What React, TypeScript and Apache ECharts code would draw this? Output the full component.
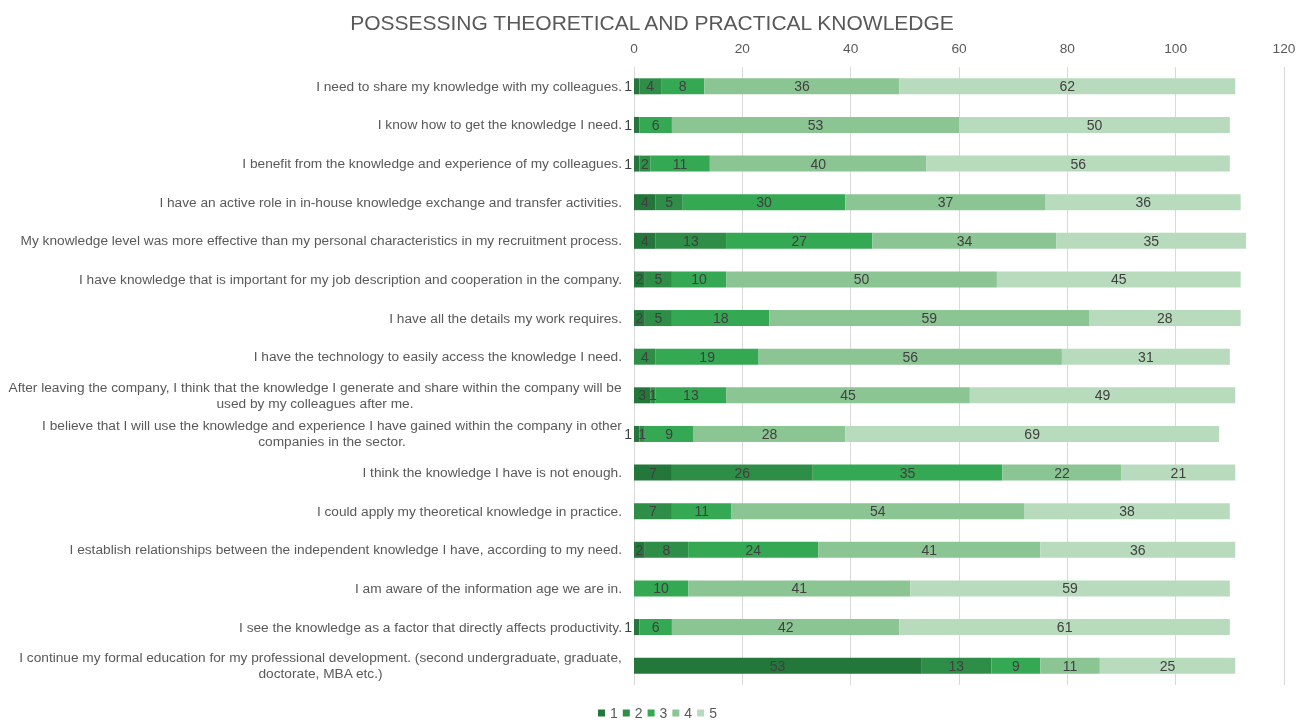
import React, { useEffect, useRef } from "react";
import * as echarts from "echarts";

const categories: string[] = [
  "I need to share my knowledge with my colleagues.",
  "I know how to get the knowledge I need.",
  "I benefit from the knowledge and experience of my colleagues.",
  "I have an active role in in-house knowledge exchange and transfer activities.",
  "My knowledge level was more effective than my personal characteristics in my recruitment process.",
  "I have knowledge that is important for my job description and cooperation in the company.",
  "I have all the details my work requires.",
  "I have the technology to easily access the knowledge I need.",
  "After leaving the company, I think that the knowledge I generate and share within the company will be\nused by my colleagues after me.",
  "I believe that I will use the knowledge and experience I have gained within the company in other\ncompanies in the sector.",
  "I think the knowledge I have is not enough.",
  "I could apply my theoretical knowledge in practice.",
  "I establish relationships between the independent knowledge I have, according to my need.",
  "I am aware of the information age we are in.",
  "I see the knowledge as a factor that directly affects productivity.",
  "I continue my formal education for my professional development. (second undergraduate, graduate,\ndoctorate, MBA etc.)",
];

const seriesNames: string[] = ["1", "2", "3", "4", "5"];
const s1: number[] = [1, 1, 1, 4, 4, 2, 2, 0, 3, 1, 7, 0, 2, 0, 1, 53];
const s2: number[] = [4, 0, 2, 5, 13, 5, 5, 4, 1, 1, 26, 7, 8, 0, 0, 13];
const s3: number[] = [8, 6, 11, 30, 27, 10, 18, 19, 13, 9, 35, 11, 24, 10, 6, 9];
const s4: number[] = [36, 53, 40, 37, 34, 50, 59, 56, 45, 28, 22, 54, 41, 41, 42, 11];
const s5: number[] = [62, 50, 56, 36, 35, 45, 28, 31, 49, 69, 21, 38, 36, 59, 61, 25];
const xTicks = { min: 0, max: 120, interval: 20 };

const colors = ["#23773a", "#2e8d47", "#34a853", "#8cc594", "#b8dbbd"];
const CAT_SIZE = 13.7;
const LABEL_FONT = `${CAT_SIZE}px "Liberation Sans"`;
const TEXT_COLOR = "#595959";

export default function App() {
  const ref = useRef<HTMLDivElement>(null);
  useEffect(() => {
    if (!ref.current) return;
    const chart = echarts.init(ref.current, undefined, { renderer: "svg" });
    const canvas = document.createElement("canvas");
    const ctx = canvas.getContext("2d")!;
    ctx.font = LABEL_FONT;
    const rich: Record<string, any> = {};
    const keyFor: Record<string, string> = {};
    categories.forEach((c, i) => {
      if (c.includes("\n")) {
        const w = Math.max(...c.split("\n").map((l) => ctx.measureText(l).width));
        const k = "w" + i;
        keyFor[c] = k;
        rich[k] = { width: Math.ceil(w), align: "center", fontSize: CAT_SIZE, color: TEXT_COLOR, lineHeight: 16 };
      }
    });
    const all = [s1, s2, s3, s4, s5];
    const series = all.map((arr, si) => ({
      name: seriesNames[si],
      type: "bar",
      stack: "total",
      barWidth: 16,
      itemStyle: { color: colors[si] },
      label: {
        show: true,
        position: "inside",
        color: "#404040",
        fontSize: 14,
        fontFamily: "Liberation Sans",
        formatter: (p: any) => (p.value > 0 ? String(p.value) : ""),
      },
      data: arr.map((v) =>
        si === 0 && v === 1
          ? { value: v, label: { position: "left", distance: 2 } }
          : v
      ),
    }));
    chart.setOption({
      animation: false,
      textStyle: { fontFamily: "Liberation Sans" },
      title: {
        text: "POSSESSING THEORETICAL AND PRACTICAL KNOWLEDGE",
        left: "center",
        top: 7,
        textStyle: { fontSize: 21, fontWeight: "normal", color: TEXT_COLOR, fontFamily: "Liberation Sans" },
      },
      legend: {
        bottom: 2,
        left: 598,
        padding: 0,
        icon: "rect",
        itemWidth: 7,
        itemHeight: 7,
        itemGap: 5,
        textStyle: { fontSize: 14, color: TEXT_COLOR },
        data: seriesNames,
      },
      grid: { left: 634, right: 20, top: 67, bottom: 37, containLabel: false },
      xAxis: {
        type: "value",
        position: "top",
        min: xTicks.min,
        max: xTicks.max,
        interval: xTicks.interval,
        axisLine: { show: false },
        axisTick: { show: false },
        axisLabel: { color: TEXT_COLOR, fontSize: 13.7, margin: 12 },
        splitLine: { lineStyle: { color: "#d9d9d9" } },
      },
      yAxis: {
        type: "category",
        inverse: true,
        data: categories,
        axisLine: { show: false },
        axisTick: { show: false },
        axisLabel: {
          color: TEXT_COLOR,
          fontSize: CAT_SIZE,
          margin: 12,
          lineHeight: 16,
          formatter: (v: string) =>
            keyFor[v] ? v.split("\n").map((l) => `{${keyFor[v]}|${l}}`).join("\n") : v,
          rich,
        },
      },
      series,
    });
    return () => chart.dispose();
  }, []);
  return <div ref={ref} style={{ position: "fixed", left: 0, top: 0, width: 1304, height: 722 }} />;
}
